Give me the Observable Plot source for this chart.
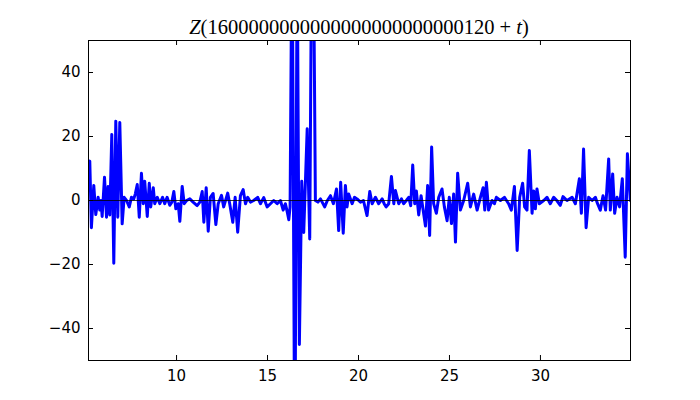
<!DOCTYPE html>
<html><head><meta charset="utf-8">
<script src="https://cdn.jsdelivr.net/npm/d3@7"></script>
<script src="https://cdn.jsdelivr.net/npm/@observablehq/plot@0.6"></script>
<style>body{margin:0;background:#fff}</style>
</head><body><div id="chart"></div>
<script>
const titleNumber = "1600000000000000000000000120";
const tValues = [5.16,5.23,5.32,5.45,5.56,5.69,5.78,5.85,5.91,6.04,6.15,6.24,6.33,6.44,6.55,6.66,6.77,6.88,7.01,7.12,7.25,7.40,7.52,7.65,7.73,7.84,7.95,8.07,8.17,8.25,8.39,8.50,8.58,8.72,8.80,8.94,9.08,9.23,9.35,9.48,9.63,9.74,9.85,9.96,10.09,10.18,10.31,10.42,10.55,10.73,10.91,11.13,11.28,11.41,11.50,11.63,11.74,11.86,12.01,12.16,12.29,12.47,12.59,12.81,12.92,13.09,13.22,13.36,13.51,13.66,13.79,13.91,14.06,14.24,14.46,14.61,14.79,14.98,15.16,15.34,15.53,15.71,15.86,15.98,16.08,16.17,16.24,16.35,16.50,16.63,16.75,16.88,16.99,17.18,17.32,17.47,17.63,17.77,17.91,18.14,18.29,18.46,18.62,18.79,18.91,19.02,19.16,19.28,19.37,19.46,19.65,19.78,19.92,20.11,20.27,20.47,20.62,20.75,20.93,21.11,21.30,21.41,21.52,21.66,21.81,21.94,22.03,22.21,22.36,22.48,22.63,22.76,22.87,22.98,23.09,23.18,23.31,23.44,23.68,23.80,23.91,24.02,24.13,24.28,24.41,24.59,24.72,24.87,24.99,25.11,25.23,25.33,25.45,25.60,25.78,26.00,26.15,26.33,26.52,26.70,26.85,26.94,27.03,27.15,27.34,27.47,27.58,27.80,28.02,28.25,28.40,28.57,28.72,28.86,29.02,29.13,29.26,29.39,29.54,29.63,29.72,29.81,29.94,30.18,30.36,30.54,30.73,30.90,31.09,31.24,31.46,31.74,31.92,32.14,32.25,32.37,32.51,32.65,32.84,33.02,33.14,33.29,33.44,33.58,33.75,33.84,33.97,34.08,34.21,34.35,34.50,34.66,34.78,34.94];
const zValues = [10,12.3,-8.5,4.7,-4.4,1,-3,0,-5,7.3,-5.2,4.4,-4.5,20.6,-19.6,24.8,-5.2,24.4,-7.3,1,0,-2,1,0.5,2,5,-5.2,8.5,-1,6,-5,5.4,-2,4,-1,1,-1,1,-1,1,-1.5,-0.5,2.8,-2.6,-1,-6.5,4.4,-1,0,0.5,-0.5,-1.6,-0.5,2.8,-6.8,4,-9.6,1,2.2,-7.5,-1,1.6,-2,2.3,-1,-6.8,1,-9.9,1.5,3.4,-1,1,-0.5,0,1,-1,0.9,-2,-1,0,-1,0,-3,-1,-3.5,-6,-2,90,-90,80,-45,6,-10,22.4,-12,120,0,-0.5,0.5,-2,0,1.5,-1,3.6,-9.4,5.7,-10.2,4.7,-2,2,-1,1,0.5,-0.5,0,-4.7,2.8,-1,1,-1,0.5,-1,-2,-1,7.5,-1,3.1,-1,0.5,-1,0,1,-1.6,11.1,-1,3,-4.5,1.5,-8,4.7,-10.9,16.7,-1,-4,1,3.6,-2,-6.3,1,-7.2,2,-13,8.5,-3,0,5.4,-2,2,-3,1,4,-3,5.7,-3,0,-1,1,0,1,-1,-3,4.4,-15.6,1,5.4,-2,-3,15.6,-4,3,-2.6,3.6,-1,0,1,-1,1,0,-1.5,1.2,0,1,-1,6.8,-4,16.1,-8.5,1,0,1,-1,-3,1.5,-3,13,-3,8.3,-4,1,-2,6.8,-17.7,14.6,0];
const xTicks = [10, 15, 20, 25, 30];
const yTicks = [-40, -20, 0, 20, 40];
const xDomain = [5.16, 34.95];
const yDomain = [-50, 50];

const data = tValues.map((t, i) => ({t, z: zValues[i]}));
const W = 700, H = 400, mL = 88, mR = 70, mT = 40, mB = 40;
const innerH = H - mT - mB, innerW = W - mL - mR;
const fmt = d => d < 0 ? "\u2212" + Math.abs(d) : String(d);

const plot = Plot.plot({
  width: W, height: H,
  marginLeft: mL, marginRight: mR, marginTop: mT, marginBottom: mB,
  style: {fontFamily: "DejaVu Sans", fontSize: "15px", background: "white", color: "black"},
  x: {domain: xDomain},
  y: {domain: yDomain},
  marks: [
    Plot.line(data, {x: "t", y: "z", stroke: "#0000ff", strokeWidth: 3, clip: true}),
    Plot.ruleY([0], {stroke: "black", strokeWidth: 0.8}),
    Plot.frame({stroke: "black", strokeWidth: 1}),
    Plot.tickX(xTicks, {x: d => d, insetTop: innerH - 5, stroke: "black"}),
    Plot.tickX(xTicks, {x: d => d, insetBottom: innerH - 5, stroke: "black"}),
    Plot.tickY(yTicks, {y: d => d, insetRight: innerW - 5, stroke: "black"}),
    Plot.tickY(yTicks, {y: d => d, insetLeft: innerW - 5, stroke: "black"}),
    Plot.axisX(xTicks, {tickSize: 0, tickPadding: 10, label: null, fontSize: 15, tickFormat: fmt}),
    Plot.axisY(yTicks, {tickSize: 0, tickPadding: 8, label: null, fontSize: 15, tickFormat: fmt})
  ]
});

const svg = d3.select(plot);
const title = svg.append("text")
  .attr("x", (mL + W - mR) / 2).attr("y", 34)
  .attr("text-anchor", "middle")
  .attr("font-family", "Liberation Serif, serif")
  .attr("font-size", 20.5)
  .attr("fill", "black");
title.append("tspan").attr("font-style", "italic").text("Z");
title.append("tspan").text("(" + titleNumber + " + ");
title.append("tspan").attr("font-style", "italic").text("t");
title.append("tspan").text(")");

document.getElementById("chart").append(plot);
</script>
</body></html>
